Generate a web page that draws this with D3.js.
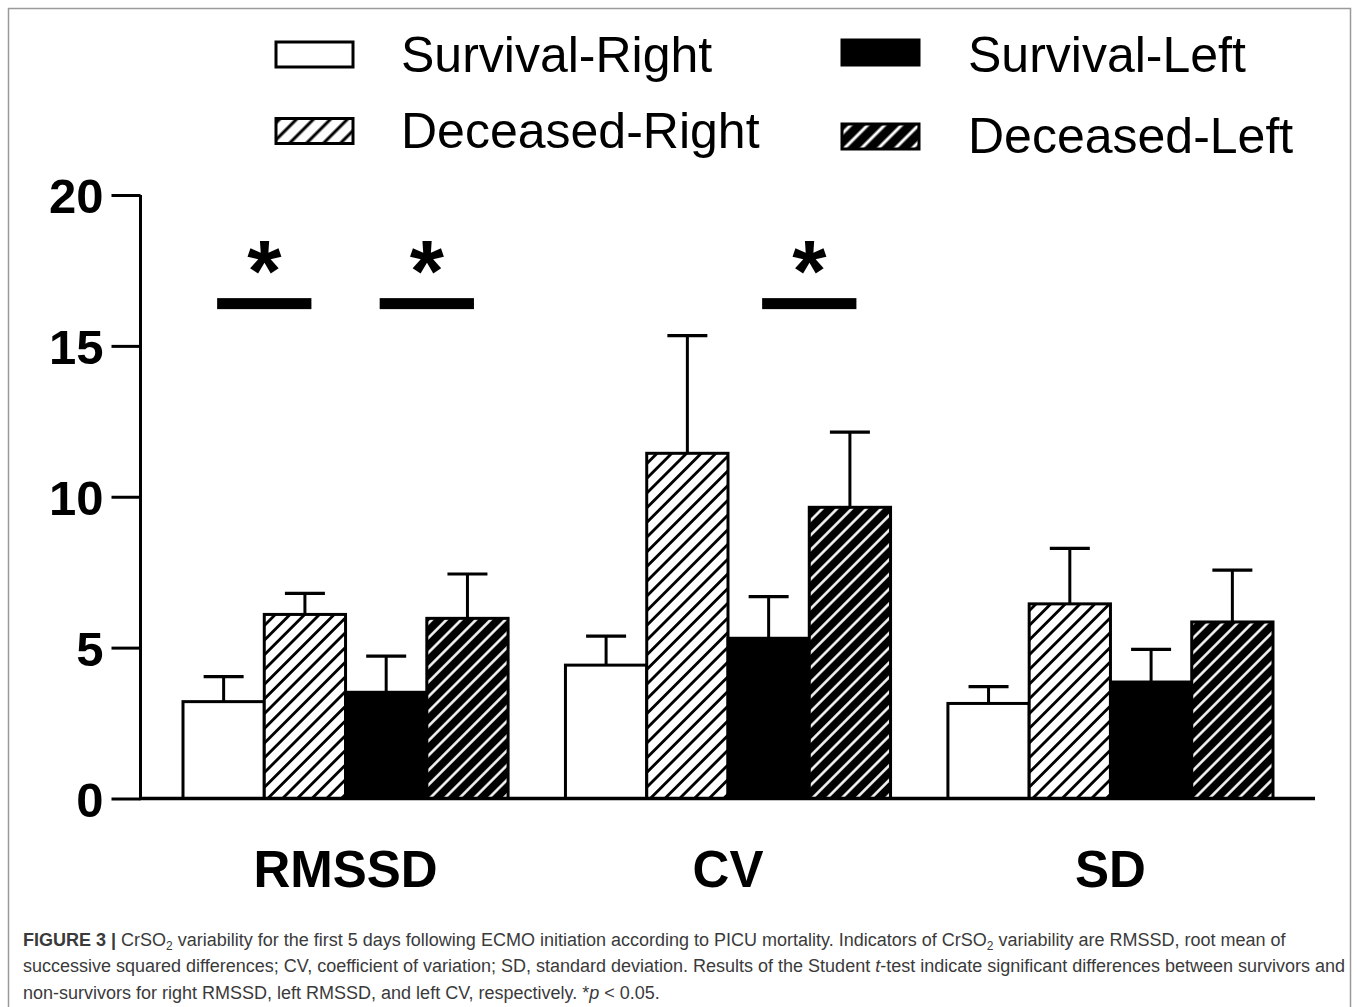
<!DOCTYPE html>
<html>
<head>
<meta charset="utf-8">
<script src="https://cdn.jsdelivr.net/npm/d3@7"></script>
<style>
  html, body { margin: 0; padding: 0; background: #fff; }
  svg { display: block; }
  text { font-family: "Liberation Sans", Arial, Helvetica, sans-serif; }
</style>
</head>
<body>
<svg id="chart" width="1358" height="1007"></svg>
<script>
// ---------- data ----------
const groups = ["RMSSD", "CV", "SD"];
const seriesNames = ["Survival-Right", "Deceased-Right", "Survival-Left", "Deceased-Left"];
// means
const survivalRight = [3.21, 4.42, 3.15];
const deceasedRight = [6.10, 11.44, 6.45];
const survivalLeft  = [3.52, 5.31, 3.86];
const deceasedLeft  = [5.97, 9.65, 5.85];
// upper error (SEM) above mean
const survivalRightErr = [0.83, 0.96, 0.56];
const deceasedRightErr = [0.70, 3.90, 1.84];
const survivalLeftErr  = [1.20, 1.38, 1.08];
const deceasedLeftErr  = [1.47, 2.49, 1.72];
const yTicks = [0, 5, 10, 15, 20];
// significance markers: group index, pair of series indices, level
const sigGroup = [0, 0, 1];
const sigA = [0, 2, 2];
const sigB = [1, 3, 3];
const sigLevel = 16.4;
const starLevel = 18.1;

const means = [survivalRight, deceasedRight, survivalLeft, deceasedLeft];
const errs = [survivalRightErr, deceasedRightErr, survivalLeftErr, deceasedLeftErr];
const fills = ["#fff", "url(#hatchW)", "#000", "url(#hatchB)"];
const legFills = ["#fff", "url(#hatchWL)", "#000", "url(#hatchBL)"];

// ---------- layout ----------
const svg = d3.select("#chart");
const defs = svg.append("defs");

function hatch(id, bg, fg, w, sp) {
  const p = defs.append("pattern").attr("id", id)
    .attr("patternUnits", "userSpaceOnUse")
    .attr("width", sp).attr("height", sp)
    .attr("patternTransform", "rotate(45)");
  p.append("rect").attr("width", sp).attr("height", sp).attr("fill", bg);
  p.append("line").attr("x1", sp / 2).attr("x2", sp / 2).attr("y1", -1).attr("y2", sp + 1)
    .attr("stroke", fg).attr("stroke-width", w);
}
hatch("hatchW", "#fff", "#000", 2.8, 10.4);
hatch("hatchB", "#000", "#fff", 2.5, 10.4);
hatch("hatchWL", "#fff", "#000", 3, 12);
hatch("hatchBL", "#000", "#fff", 3, 12);

// outer frame
svg.append("rect").attr("x", 8.5).attr("y", 8.5).attr("width", 1342).attr("height", 1010)
  .attr("fill", "none").attr("stroke", "#9a9a9a").attr("stroke-width", 1.5);

const y = d3.scaleLinear().domain([0, 20]).range([798.5, 195]);
const x0 = d3.scaleBand().domain(groups).range([183, 1273]).paddingInner(0.15).paddingOuter(0);
const x1 = d3.scaleBand().domain(d3.range(seriesNames.length)).range([0, x0.bandwidth()]).padding(0);

// bars
const g = svg.append("g");
groups.forEach((grp, gi) => {
  seriesNames.forEach((s, si) => {
    const bx = x0(grp) + x1(si);
    const v = means[si][gi];
    const e = errs[si][gi];
    const cx = bx + x1.bandwidth() / 2;
    // error bar
    g.append("line").attr("x1", cx).attr("x2", cx)
      .attr("y1", y(v)).attr("y2", y(v + e))
      .attr("stroke", "#000").attr("stroke-width", 3);
    g.append("line").attr("x1", cx - 20).attr("x2", cx + 20)
      .attr("y1", y(v + e)).attr("y2", y(v + e))
      .attr("stroke", "#000").attr("stroke-width", 3.2);
    g.append("rect")
      .attr("x", bx).attr("y", y(v))
      .attr("width", x1.bandwidth()).attr("height", y(0) - y(v))
      .attr("fill", fills[si]).attr("stroke", "#000").attr("stroke-width", 3);
  });
});

// axes
const yAxis = d3.axisLeft(y).tickValues(yTicks).tickSize(29).tickPadding(8).tickFormat(d3.format("d"));
const ya = svg.append("g").attr("transform", "translate(140.5,0)").call(yAxis);
ya.select(".domain").attr("stroke", "#000").attr("stroke-width", 3).attr("d", `M0,${y(0)}V${y(20)}`);
ya.selectAll(".tick line").attr("stroke", "#000").attr("stroke-width", 3);
ya.selectAll(".tick text").attr("fill", "#000").attr("font-size", 49).attr("font-weight", "bold")
  .attr("font-family", "'Liberation Sans', Arial, sans-serif").attr("dy", "0.36em");

svg.append("line").attr("x1", 139).attr("x2", 1315).attr("y1", y(0)).attr("y2", y(0))
  .attr("stroke", "#000").attr("stroke-width", 3.5);

const xAxis = d3.axisBottom(x0).tickSize(0).tickPadding(0);
const xa = svg.append("g").attr("transform", `translate(0,${y(0)})`).call(xAxis);
xa.select(".domain").remove();
xa.selectAll(".tick text").attr("fill", "#000").attr("font-size", 51).attr("font-weight", "bold")
  .attr("font-family", "'Liberation Sans', Arial, sans-serif").attr("dy", "1.73em");

// significance
sigGroup.forEach((gi, k) => {
  const ca = x0(groups[gi]) + x1(sigA[k]) + x1.bandwidth() / 2;
  const cb = x0(groups[gi]) + x1(sigB[k]) + x1.bandwidth() / 2;
  const mid = (ca + cb) / 2;
  const half = (cb - ca) / 2 + 6.5;
  svg.append("rect").attr("x", mid - half).attr("width", half * 2)
    .attr("y", y(sigLevel) - 5.5).attr("height", 11).attr("fill", "#000");
  svg.append("text").attr("x", mid).attr("y", y(starLevel))
    .attr("text-anchor", "middle").attr("font-size", 88).attr("font-weight", "bold")
    .attr("dy", "0.55em").attr("fill", "#000").text("*");
});

// legend
const legX = [276, 842];
const legTextX = [401, 968];
const legRectY = [[42, 118.5], [40, 124]];
const legTextY = [[72, 148], [72, 153]];
seriesNames.forEach((s, si) => {
  const col = si < 2 ? 0 : 1;
  const row = si % 2;
  svg.append("rect").attr("x", legX[col]).attr("y", legRectY[col][row])
    .attr("width", 77).attr("height", 25)
    .attr("fill", legFills[si]).attr("stroke", "#000").attr("stroke-width", 3);
  svg.append("text").attr("x", legTextX[col]).attr("y", legTextY[col][row])
    .attr("font-size", 50).attr("fill", "#000").text(s);
});

// caption
const cap = svg.append("g").attr("font-size", 18).attr("fill", "#3a3a3a");
const l1 = cap.append("text").attr("x", 23).attr("y", 946);
l1.append("tspan").attr("font-weight", "bold").text("FIGURE 3 | ");
l1.append("tspan").text("CrSO");
l1.append("tspan").attr("font-size", 12).attr("dy", 4).text("2");
l1.append("tspan").attr("dy", -4).text(" variability for the first 5 days following ECMO initiation according to PICU mortality. Indicators of CrSO");
l1.append("tspan").attr("font-size", 12).attr("dy", 4).text("2");
l1.append("tspan").attr("dy", -4).text(" variability are RMSSD, root mean of");
const l2 = cap.append("text").attr("x", 23).attr("y", 972);
l2.append("tspan").text("successive squared differences; CV, coefficient of variation; SD, standard deviation. Results of the Student ");
l2.append("tspan").attr("font-style", "italic").text("t");
l2.append("tspan").text("-test indicate significant differences between survivors and");
const l3 = cap.append("text").attr("x", 23).attr("y", 999);
l3.append("tspan").text("non-survivors for right RMSSD, left RMSSD, and left CV, respectively. *");
l3.append("tspan").attr("font-style", "italic").text("p");
l3.append("tspan").text(" < 0.05.");
</script>
</body>
</html>
